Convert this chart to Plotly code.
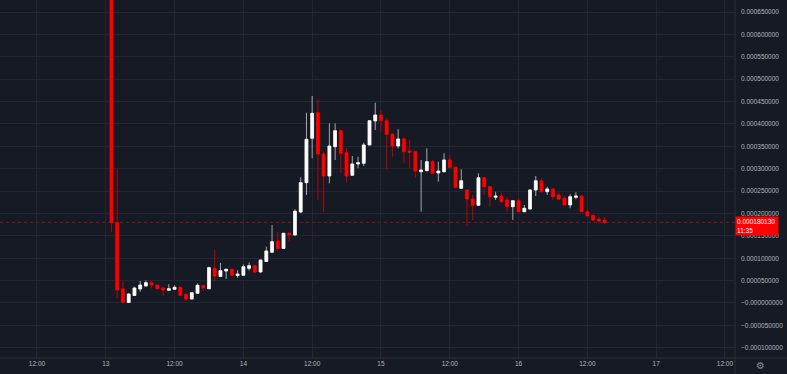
import plotly.graph_objects as go
import pandas as pd

# hourly candles, prices in units of 1e-6
times = pd.date_range("2021-05-13 01:00", periods=87, freq="h")

open_ = [900, 179.4, 31.3, 1.0, 16.8, 31.3, 38.0, 45.4, 40.2, 33.5,
         28.4, 30.6, 35.1, 19.4, 8.9, 21.7, 38.7, 31.9, 77.5, 59.2,
         71.5, 75.3, 61.4, 61.9, 77.5, 83.3, 69.3, 92.7, 113.3, 138.5,
         121.8, 155.7, 151.9, 203.3, 268.8, 368.0, 425.1, 332.9, 283.7, 349.2,
         384.9, 335.8, 285.3, 310.5, 312.1, 353.0, 406.6, 420.0, 407.3, 376.9,
         350.8, 366.4, 339.6, 338.0, 293.3, 295.6, 315.7, 290.4, 293.3, 319.5,
         303.2, 256.3, 252.5, 232.3, 218.3, 279.9, 259.8, 236.1, 239.0, 230.1,
         215.1, 228.5, 204.0, 210.0, 252.5, 272.6, 248.7, 254.7, 241.3, 233.9,
         218.9, 236.1, 239.0, 204.0, 195.9, 187.0, 185.4]
high = [900, 299.4, 49.2, 22.3, 36.4, 49.2, 50.3, 49.2, 40.2, 36.4,
        41.8, 39.1, 35.1, 19.4, 23.0, 43.6, 39.5, 81.1, 119.5, 89.4,
        76.0, 76.0, 73.1, 86.0, 90.5, 84.0, 96.5, 125.8, 174.3, 158.6,
        156.5, 159.3, 209.6, 280.8, 425.1, 462.5, 455.1, 338.0, 401.5, 401.5,
        388.1, 345.6, 328.4, 326.8, 358.1, 408.8, 447.5, 429.6, 412.6, 379.1,
        388.1, 370.2, 364.2, 340.0, 319.5, 345.6, 319.5, 315.7, 334.4, 330.6,
        304.0, 298.7, 253.0, 241.3, 289.8, 281.0, 261.0, 248.7, 246.4, 237.5,
        229.0, 233.9, 218.9, 254.0, 283.7, 278.6, 259.8, 255.5, 247.3, 239.0,
        242.8, 247.3, 240.0, 207.8, 196.5, 192.8, 191.5]
low = [159.3, 10.5, 0.2, 0.3, 15.6, 25.2, 37.0, 32.4, 31.0, 16.3,
       28.0, 30.0, 16.0, 4.5, 8.0, 21.0, 26.8, 31.0, 49.2, 58.0,
       53.6, 60.0, 56.5, 61.0, 72.2, 66.4, 68.0, 92.0, 112.4, 116.8,
       121.0, 137.4, 151.0, 200.4, 241.3, 323.3, 230.1, 204.0, 267.4, 319.5,
       291.1, 268.8, 284.0, 300.9, 306.1, 352.0, 386.5, 382.7, 298.7, 326.8,
       345.6, 312.1, 300.9, 280.8, 204.0, 294.0, 288.0, 271.0, 292.0, 302.0,
       257.0, 255.0, 172.0, 185.4, 217.0, 241.3, 215.1, 230.1, 222.7, 204.0,
       185.4, 203.0, 203.0, 209.0, 239.0, 247.0, 241.3, 230.1, 231.0, 218.0,
       211.6, 231.7, 203.0, 193.0, 181.6, 178.1, 176.5]
close = [179.4, 29.0, 1.0, 20.1, 33.5, 40.2, 45.4, 40.2, 31.9, 29.0,
         31.9, 35.1, 17.2, 8.9, 23.0, 39.5, 33.5, 78.9, 60.3, 72.2,
         75.3, 61.9, 64.8, 81.1, 83.3, 69.3, 96.1, 116.2, 137.0, 121.8,
         155.7, 151.9, 204.9, 268.8, 365.7, 423.8, 332.9, 283.7, 350.8, 384.9,
         334.4, 283.7, 310.5, 313.4, 353.0, 407.3, 420.0, 407.3, 376.9, 350.8,
         366.4, 338.0, 336.7, 294.9, 297.1, 315.7, 289.8, 294.9, 319.5, 303.2,
         258.5, 273.2, 232.3, 218.3, 279.9, 259.8, 237.5, 239.0, 226.3, 215.1,
         228.5, 204.0, 211.6, 252.5, 273.2, 248.7, 254.7, 237.5, 231.7, 218.9,
         237.5, 239.0, 204.0, 194.4, 185.4, 183.2, 180.13]

last_price = 180.13
last_price_text = "0.000180130"
countdown_text = "11:35"

x_tickvals = ["2021-05-12 12:00", "2021-05-13 00:00", "2021-05-13 12:00", "2021-05-14 00:00",
              "2021-05-14 12:00", "2021-05-15 00:00", "2021-05-15 12:00", "2021-05-16 00:00",
              "2021-05-16 12:00", "2021-05-17 00:00", "2021-05-17 12:00"]
x_ticktext = ["12:00", "13", "12:00", "14", "12:00", "15", "12:00", "16", "12:00", "17", "12:00"]

y_tickvals = [650, 600, 550, 500, 450, 400, 350, 300, 250, 200, 150, 100, 50, 0, -50, -100]
y_ticktext = ["0.000650000", "0.000600000", "0.000550000", "0.000500000", "0.000450000",
              "0.000400000", "0.000350000", "0.000300000", "0.000250000", "0.000200000",
              "0.000150000", "0.000100000", "0.000050000", "\u22120.000000000",
              "\u22120.000050000", "\u22120.000100000"]

BG = "#161a25"
GRID = "#222633"
TXT = "#b2b5be"
UP = "#ffffff"
DOWN = "#ff0000"
FONT = "Liberation Sans"

body_hi = [max(o, c) for o, c in zip(open_, close)]
body_lo = [min(o, c) for o, c in zip(open_, close)]

fig = go.Figure()
# wicks
fig.add_trace(go.Candlestick(
    x=times, open=open_, high=high, low=low, close=close,
    increasing=dict(line=dict(color="#a8a8a8", width=1), fillcolor="#a8a8a8"),
    decreasing=dict(line=dict(color="#c00000", width=1), fillcolor="#c00000"),
    whiskerwidth=0, hoverinfo="skip"))
# bodies
fig.add_trace(go.Candlestick(
    x=times, open=open_, high=body_hi, low=body_lo, close=close,
    increasing=dict(line=dict(color=UP, width=0.5), fillcolor=UP),
    decreasing=dict(line=dict(color=DOWN, width=0.5), fillcolor=DOWN),
    whiskerwidth=0))

fig.update_layout(
    width=787, height=374,
    margin=dict(l=0, r=52, t=0, b=16),
    paper_bgcolor=BG, plot_bgcolor=BG,
    showlegend=False,
    font=dict(family=FONT, color=TXT, size=6.5),
    xaxis=dict(
        range=["2021-05-12 05:33", "2021-05-17 13:45"],
        tickmode="array", tickvals=x_tickvals, ticktext=x_ticktext,
        showgrid=True, gridcolor=GRID, gridwidth=1,
        rangeslider=dict(visible=False),
        showline=False, zeroline=False, ticks="",
        tickfont=dict(family=FONT, color=TXT, size=6.5),
    ),
    yaxis=dict(
        side="right",
        range=[-122.9, 676.9],
        tickmode="array", tickvals=y_tickvals, ticktext=y_ticktext,
        showgrid=True, gridcolor=GRID, gridwidth=1,
        zeroline=False, showline=False, ticks="",
        ticklabelstandoff=5,
        tickfont=dict(family=FONT, color=TXT, size=6.5),
    ),
    shapes=[
        dict(type="line", xref="paper", yref="y", x0=0, x1=1, y0=last_price, y1=last_price,
             line=dict(color="#ff0000", width=1, dash="dot"), opacity=0.55, layer="below"),
        dict(type="line", xref="paper", yref="paper", x0=1, x1=1, y0=-16/358, y1=1,
             line=dict(color="#2a2e39", width=1)),
        dict(type="line", xref="paper", yref="paper", x0=0, x1=787/735, y0=0, y1=0,
             line=dict(color="#2a2e39", width=1)),
    ],
    annotations=[
        dict(text=last_price_text + "<br>" + countdown_text,
             xref="paper", yref="paper", x=1.0, y=1 - 226.4/358,
             xanchor="left", yanchor="middle", showarrow=False,
             align="left", valign="middle", width=40, height=16, borderpad=1,
             bgcolor="#ff0000",
             font=dict(family=FONT, color="#ffffff", size=6.5)),
        dict(text="\u2699", xref="paper", yref="paper", x=760/735, y=1 - 365/358,
             xanchor="center", yanchor="middle", showarrow=False,
             font=dict(family="DejaVu Sans", color="#8a8d96", size=10)),
    ],
)

fig.write_html(
    "out.html",
    config={"displayModeBar": False},
    post_script="document.body.style.margin='0';document.body.style.overflow='hidden';"
                "document.documentElement.style.background='" + BG + "';",
)
